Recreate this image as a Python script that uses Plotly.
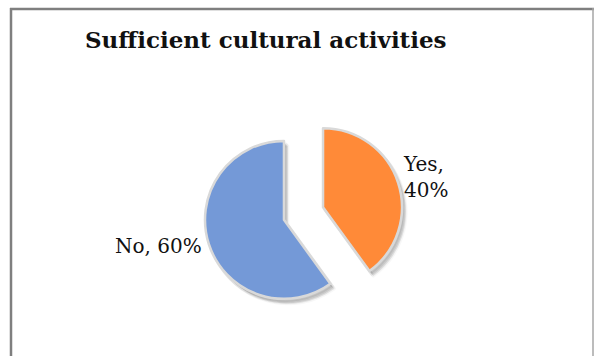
import plotly.graph_objects as go

# Survey answers
labels = ["Yes", "No"]
values = [40, 60]
colors = ["#FF8A38", "#7499D7"]
title_text = "Sufficient cultural activities"

W, H = 594, 356
pull = 0.26

# pie domain (pixel box converted to paper fractions)
cx, cy, half = 303.5, 213.5, 99.5
dom_x = [(cx - half) / W, (cx + half) / W]
dom_y = [(H - (cy + half)) / H, (H - (cy - half)) / H]

fig = go.Figure()

# soft drop shadow under the slices
for dx, dy, alpha in [(4, 5, 0.06), (3, 4, 0.08), (2, 3, 0.10)]:
    fig.add_trace(go.Pie(
        labels=labels, values=values, sort=False, direction="clockwise",
        pull=[pull, pull], textinfo="none", hoverinfo="skip", showlegend=False,
        marker=dict(colors=[f"rgba(0,0,0,{alpha})"] * 2,
                    line=dict(color=f"rgba(0,0,0,{alpha / 2})", width=3)),
        domain=dict(x=[(cx - half + dx) / W, (cx + half + dx) / W],
                    y=[(H - (cy + half + dy)) / H, (H - (cy - half + dy)) / H]),
    ))

fig.add_trace(go.Pie(
    labels=labels, values=values, sort=False, direction="clockwise",
    pull=[pull, pull], textinfo="none", showlegend=False,
    marker=dict(colors=colors, line=dict(color="#D9D9D9", width=2.5)),
    domain=dict(x=dom_x, y=dom_y),
))

label_font = dict(family="DejaVu Serif", size=20, color="#111111")
fig.add_annotation(
    x=401 / W, y=1 - 177 / H, xref="paper", yref="paper",
    xanchor="left", yanchor="middle", align="left", showarrow=False,
    text=f"{labels[0]},<br>{values[0]}%", font=label_font,
)
fig.add_annotation(
    x=204 / W, y=1 - 246 / H, xref="paper", yref="paper",
    xanchor="right", yanchor="middle", showarrow=False,
    text=f"{labels[1]}, {values[1]}%", font=label_font,
)
fig.add_annotation(
    x=266 / W, y=1 - 39 / H, xref="paper", yref="paper",
    xanchor="center", yanchor="middle", showarrow=False,
    text=f"<b>{title_text}</b>",
    font=dict(family="DejaVu Serif", size=23, color="#111111"),
)

# chart frame
frame = [
    dict(x0=11, y0=8, x1=11, y1=H, color="#7F7F7F", width=2.5),
    dict(x0=10, y0=9, x1=594, y1=9, color="#7F7F7F", width=2.5),
    dict(x0=593, y0=8, x1=593, y1=H, color="#A6A6A6", width=1.5),
]
for f in frame:
    fig.add_shape(type="line", xref="paper", yref="paper",
                  x0=f["x0"] / W, x1=f["x1"] / W,
                  y0=1 - f["y0"] / H, y1=1 - f["y1"] / H,
                  line=dict(color=f["color"], width=f["width"]))

fig.update_layout(
    width=W, height=H, margin=dict(l=0, r=0, t=0, b=0),
    paper_bgcolor="white", plot_bgcolor="white",
)
fig.write_html("out.html")
